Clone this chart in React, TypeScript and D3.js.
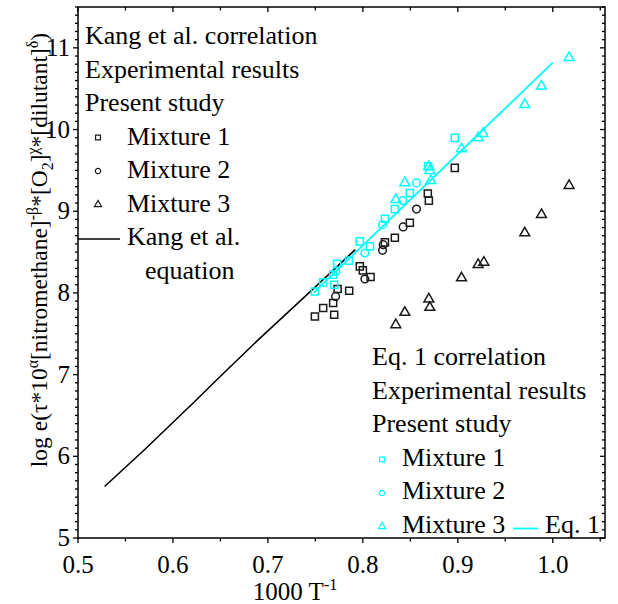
import * as d3 from "d3";

const W = 618;
const H = 604;
const left = 78, right = 605, top = 7, bottom = 538;
const font = "'Liberation Serif', 'Times New Roman', serif";
const cyan = "#00ffff";
const dark = "#1a1a1a";

// Kang et al. correlation (black)
const kangMix1: [number, number][] = [
  [0.8968, 9.531], [0.8684, 9.216], [0.8695, 9.13], [0.8495, 8.86], [0.8337, 8.676],
  [0.8232, 8.619], [0.7968, 8.325], [0.8, 8.276], [0.8081, 8.195], [0.7856, 8.027],
  [0.7734, 8.048], [0.7687, 7.876], [0.7582, 7.815], [0.7495, 7.712], [0.7698, 7.733],
];
const kangMix2: [number, number][] = [
  [0.8565, 9.026], [0.8424, 8.808], [0.8214, 8.591], [0.8207, 8.521], [0.8021, 8.17], [0.7713, 7.957],
];
const kangMix3: [number, number][] = [
  [1.0172, 9.314], [0.9881, 8.958], [0.9705, 8.734], [0.9274, 8.374], [0.9214, 8.346],
  [0.9039, 8.183], [0.8695, 7.925], [0.8705, 7.822], [0.8442, 7.761], [0.8347, 7.61],
];
const kangLine: [number, number][] = [
  [0.528, 5.63], [0.57, 6.08], [0.621, 6.65], [0.65, 6.98], [0.692, 7.45], [0.744, 8.01], [0.792, 8.53],
];

// Eq. 1 correlation (cyan)
const eqMix1: [number, number][] = [
  [0.8968, 9.898], [0.8687, 9.55], [0.8495, 9.224], [0.8337, 9.026], [0.8232, 8.909],
  [0.7968, 8.631], [0.8074, 8.57], [0.7853, 8.395], [0.7729, 8.358], [0.7687, 8.223],
  [0.7698, 8.1], [0.7582, 8.129], [0.7495, 8.018],
];
const eqMix2: [number, number][] = [
  [0.8565, 9.347], [0.8418, 9.13], [0.8207, 8.836], [0.8021, 8.489], [0.7716, 8.263],
];
const eqMix3: [number, number][] = [
  [1.0172, 10.879], [0.9881, 10.531], [0.9705, 10.306], [0.9266, 9.951], [0.9214, 9.898],
  [0.9039, 9.763], [0.8695, 9.547], [0.8705, 9.498], [0.8716, 9.375], [0.8442, 9.347], [0.8347, 9.142],
];
const eqLine: [number, number][] = [[0.748, 8.0], [1.0, 10.82]];

const xTicks = [0.5, 0.6, 0.7, 0.8, 0.9, 1.0];
const yTicks = [5, 6, 7, 8, 9, 10, 11];

const x = d3.scaleLinear().domain([0.5, 1.055]).range([left, right]);
const y = d3.scaleLinear().domain([5, 11.5]).range([bottom, top]);

const xMinor = d3.range(0.5, 1.051, 0.05);
const yMinor = d3.range(5, 11.501, 0.1);

const sq = d3.symbol(d3.symbolSquare, 50)();
const circ = d3.symbol(d3.symbolCircle, 46)();
const tri = d3.symbol(d3.symbolTriangle, 42)();
const sqS = d3.symbol(d3.symbolSquare, 24)();
const circS = d3.symbol(d3.symbolCircle, 22)();
const triS = d3.symbol(d3.symbolTriangle, 22)();

const line = d3.line<[number, number]>().x((d) => x(d[0])).y((d) => y(d[1]));

function Markers({ data, path, color }: { data: [number, number][]; path: string | null; color: string }) {
  return (
    <g fill="none" stroke={color} strokeWidth={1.5}>
      {data.map((d, i) => (
        <path key={i} d={path ?? ""} transform={`translate(${x(d[0])},${y(d[1])})`} />
      ))}
    </g>
  );
}

export default function App() {
  const fs = 26;
  const lh = 33.5;
  return (
    <svg width={W} height={H} style={{ position: "absolute", left: 0, top: 0, background: "#fff" }} fontFamily={font}>
      {/* series */}
      <path d={line(kangLine) ?? ""} fill="none" stroke="#000" strokeWidth={1.6} />
      <Markers data={kangMix1} path={sq} color={dark} />
      <Markers data={kangMix2} path={circ} color={dark} />
      <Markers data={kangMix3} path={tri} color={dark} />
      <Markers data={eqMix1} path={sq} color={cyan} />
      <Markers data={eqMix2} path={circ} color={cyan} />
      <Markers data={eqMix3} path={tri} color={cyan} />
      <path d={line(eqLine) ?? ""} fill="none" stroke={cyan} strokeWidth={1.8} />

      {/* frame */}
      <rect x={left} y={top} width={right - left} height={bottom - top} fill="none" stroke="#000" strokeWidth={1.5} />
      <g stroke="#000" strokeWidth={1.3}>
        {xMinor.map((v, i) => {
          const major = i % 2 === 0;
          const len = major ? 5 : 3.5;
          return (
            <g key={i}>
              <line x1={x(v)} x2={x(v)} y1={bottom} y2={bottom + len} />
              <line x1={x(v)} x2={x(v)} y1={top} y2={top + len} />
            </g>
          );
        })}
        {yMinor.map((v, i) => {
          const major = i % 10 === 0;
          const len = major ? 5 : 3;
          return (
            <g key={i}>
              <line x1={left - len} x2={left} y1={y(v)} y2={y(v)} />
              <line x1={right} x2={right - len} y1={y(v)} y2={y(v)} />
            </g>
          );
        })}
      </g>
      <g fontSize={25} fill="#000">
        {xTicks.map((v) => (
          <text key={v} x={x(v)} y={573} textAnchor="middle">{v.toFixed(1)}</text>
        ))}
        {yTicks.map((v) => (
          <text key={v} x={left - 8} y={y(v) + 8} textAnchor="end">{v}</text>
        ))}
      </g>

      {/* axis titles */}
      <text x={295} y={600} textAnchor="middle" fontSize={25}>
        1000 T<tspan dy={-10} fontSize={16}>-1</tspan>
      </text>
      <text transform="translate(47,250) rotate(-90)" textAnchor="middle" fontSize={23.5}>
        log e(τ*10<tspan dy={-9} fontSize={16}>α</tspan>
        <tspan dy={9}>[nitromethane]</tspan>
        <tspan dy={-9} fontSize={16}>-β</tspan>
        <tspan dy={9}>*[O</tspan>
        <tspan dy={6} fontSize={16}>2</tspan>
        <tspan dy={-6}>]</tspan>
        <tspan dy={-9} fontSize={16}>χ</tspan>
        <tspan dy={9}>*[dilutant]</tspan>
        <tspan dy={-9} fontSize={16}>δ</tspan>
        <tspan dy={9}>)</tspan>
      </text>

      {/* Kang legend */}
      <g fontSize={fs} fill="#000">
        <text x={85} y={44}>Kang et al. correlation</text>
        <text x={85} y={44 + lh}>Experimental results</text>
        <text x={85} y={44 + 2 * lh}>Present study</text>
        <text x={127} y={44 + 3 * lh}>Mixture 1</text>
        <text x={127} y={44 + 4 * lh}>Mixture 2</text>
        <text x={127} y={44 + 5 * lh}>Mixture 3</text>
        <text x={127} y={44 + 6 * lh}>Kang et al.</text>
        <text x={145} y={44 + 7 * lh}>equation</text>
      </g>
      <g fill="none" stroke={dark} strokeWidth={1.2}>
        <path d={sqS ?? ""} transform={`translate(98,${44 + 3 * lh - 7})`} />
        <path d={circS ?? ""} transform={`translate(98,${44 + 4 * lh - 7})`} />
        <path d={triS ?? ""} transform={`translate(98,${44 + 5 * lh - 7})`} />
      </g>
      <line x1={78} x2={120} y1={44 + 6 * lh - 6} y2={44 + 6 * lh - 6} stroke="#000" strokeWidth={1.5} />

      {/* Eq. 1 legend */}
      <g fontSize={fs} fill="#000">
        <text x={372} y={365}>Eq. 1 correlation</text>
        <text x={372} y={365 + lh}>Experimental results</text>
        <text x={372} y={365 + 2 * lh}>Present study</text>
        <text x={402} y={365 + 3 * lh}>Mixture 1</text>
        <text x={402} y={365 + 4 * lh}>Mixture 2</text>
        <text x={402} y={365 + 5 * lh}>Mixture 3</text>
        <text x={545} y={365 + 5 * lh}>Eq. 1</text>
      </g>
      <g fill="none" stroke={cyan} strokeWidth={1.2}>
        <path d={sqS ?? ""} transform={`translate(382,${365 + 3 * lh - 6})`} />
        <path d={circS ?? ""} transform={`translate(382,${365 + 4 * lh - 6})`} />
        <path d={triS ?? ""} transform={`translate(382,${365 + 5 * lh - 6})`} />
      </g>
      <line x1={513} x2={538} y1={365 + 5 * lh - 4} y2={365 + 5 * lh - 4} stroke={cyan} strokeWidth={1.8} />
    </svg>
  );
}
